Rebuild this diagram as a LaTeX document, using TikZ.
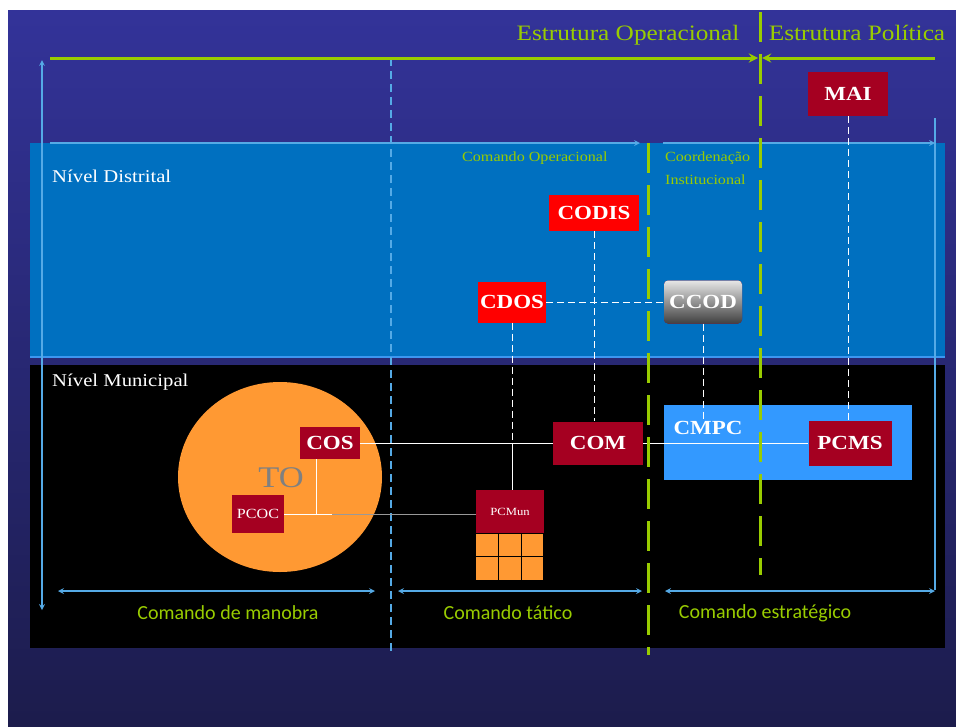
\documentclass[tikz,border=0pt]{standalone}
\usepackage{fontspec}
\setmainfont[FakeStretch=1.15]{Liberation Serif}
\newfontfamily\labelfont{Carlito}
\definecolor{bgtop}{RGB}{51,51,153}
\definecolor{bgbot}{RGB}{28,28,76}
\definecolor{bandblue}{RGB}{0,112,192}
\definecolor{bandedge}{RGB}{60,150,240}
\definecolor{lineblue}{RGB}{85,170,230}
\definecolor{limegreen}{RGB}{153,204,0}
\definecolor{darkred}{RGB}{165,0,33}
\definecolor{brightred}{RGB}{255,0,0}
\definecolor{orangefill}{RGB}{255,153,51}
\definecolor{cmpcblue}{RGB}{51,153,255}

\begin{document}
\begin{tikzpicture}[
        x=1pt, y=-1pt, >=stealth,
        box/.style={rectangle, fill=darkred, text=white, inner sep=0pt, font=\bfseries\fontsize{20}{22}\selectfont},
        redbox/.style={box, fill=brightred},
        smallbox/.style={box, font=\fontsize{14}{16}\selectfont},
        bluearrow/.style={<->, draw=lineblue, line width=1.6pt},
        blueline/.style={draw=lineblue, line width=1.6pt},
        greenline/.style={draw=limegreen, line width=3pt},
        greendash/.style={greenline, dash pattern=on 30pt off 12pt},
        link/.style={draw=white, thick},
        dashlink/.style={link, dash pattern=on 7pt off 4pt},
        title/.style={text=limegreen, inner sep=0pt, font=\fontsize{22}{24}\selectfont},
        sublabel/.style={text=limegreen, inner sep=0pt, align=left, font=\fontsize{14}{23}\selectfont},
        levellabel/.style={text=white, inner sep=0pt, anchor=west, font=\fontsize{18}{20}\selectfont},
        cmdlabel/.style={text=limegreen, inner sep=0pt, font=\labelfont\fontsize{20}{22}\selectfont}
    ]

        % background and levels
        \fill[white] (0,0) rectangle (956,726);
        \useasboundingbox (0,0) rectangle (956,726);
        \shade[top color=bgtop, bottom color=bgbot] (8,10) rectangle (956,726);
        \fill[bandblue] (30,143) rectangle (945,357);
        \draw[bandedge, line width=2pt] (30,357) -- (945,357);
        \fill[black] (30,365) rectangle (945,648);

        \node (distrital) [levellabel] at (52,176) {Nível Distrital};
        \node (municipal) [levellabel] at (52,382) {Nível Municipal};

        % column separators
        \draw[lineblue, line width=1.5pt, dash pattern=on 8pt off 5pt] (391,58) -- (391,655);
        \draw[blueline] (935,118) -- (935,590);
        \draw[bluearrow] (42,60) -- (42,610);

        % operational / political structure
        \node (operacional) [title] at (628,35) {Estrutura Operacional};
        \node (politica) [title] at (857,33) {Estrutura Política};
        \draw[greenline, ->] (50,58) -- (758,58);
        \draw[greenline, ->] (935,58) -- (762,58);

        \draw[blueline, ->] (50,143) -- (640,143);
        \draw[blueline, ->] (663,143) -- (935,143);
        \node (cmdop) [sublabel, anchor=west] at (462,158) {Comando Operacional};
        \node (coord) [sublabel, anchor=north west] at (665,152) {Coordenação\\Institucional};

        % municipal elements
        \fill[orangefill] (280,477) ellipse (102 and 95);
        \node (to) [text=gray, font=\fontsize{30}{32}\selectfont] at (281,478) {TO};
        \node (cmpcbox) [rectangle, fill=cmpcblue, minimum width=248pt, minimum height=75pt] at (788,442.5) {};
        \node (cmpc) [box, fill=none] at (708,428) {CMPC};

        % boxes
        \node (mai) [box, minimum width=80pt, minimum height=44pt] at (848,94) {MAI};
        \node (codis) [redbox, minimum width=90pt, minimum height=36pt] at (594,213) {CODIS};
        \node (cdos) [redbox, minimum width=68pt, minimum height=41pt] at (512,302) {CDOS};
        \node (ccod) [box, rounded corners=4pt, top color=gray!20, middle color=gray!60, bottom color=black!75,
            minimum width=78pt, minimum height=43pt] at (703,302) {CCOD};
        \node (com) [box, minimum width=90pt, minimum height=43pt] at (598,443) {COM};
        \node (pcms) [box, minimum width=83pt, minimum height=45pt] at (850,443) {PCMS};
        \node (cos) [box, minimum width=60pt, minimum height=32pt] at (330,443) {COS};
        \node (pcoc) [smallbox, minimum width=52pt, minimum height=38pt] at (258,514) {PCOC};
        \node (pcmun) [smallbox, font=\fontsize{11}{13}\selectfont, minimum width=68pt, minimum height=43pt] at (510,511.5) {PCMun};
        \foreach \i in {0,1,2}
            \foreach \j in {0,1}
                \draw[fill=orangefill, draw=black, thick] ([xshift=\i*22.67pt, yshift=-\j*23.5pt]pcmun.south west) rectangle ++(22.67,23.5);

        % connectors
        \coordinate (tee) at (316,514);
        \coordinate (fade) at (332,514);
        \draw[dashlink] (codis.south) -- (codis.south |- com.north);
        \draw[dashlink] (cdos.east) -- (ccod.west);
        \draw[dashlink] (cdos.south) -- (cdos.south |- com.west);
        \draw[link] (cdos.south |- com.west) -- (cdos.south |- pcmun.north);
        \draw[dashlink] (ccod.south) -- (ccod.south |- cmpc.north);
        \draw[dashlink] (mai.south) -- (mai.south |- pcms.north);
        \draw[link] (cos.east) -- (com.west);
        \draw[link] (com.east) -- (pcms.west);
        \draw[link] (cos.south -| tee) -- (tee);
        \draw[link] (pcoc.east) -- (fade);
        \draw[link, draw=gray!80] (fade) -- (pcmun.west |- tee);

        % green separators
        \draw[greendash] (760,12) -- (760,575);
        \draw[greendash] (648,143) -- (648,655);

        % command levels
        \draw[bluearrow] (58,591) -- (375,591);
        \draw[bluearrow] (398,591) -- (642,591);
        \draw[bluearrow] (665,591) -- (935,591);
        \node (manobra) [cmdlabel] at (228,613) {Comando de manobra};
        \node (tatico) [cmdlabel] at (508,613) {Comando tático};
        \node (estrategico) [cmdlabel] at (765,613) {Comando estratégico};

    \end{tikzpicture}
\end{document}
